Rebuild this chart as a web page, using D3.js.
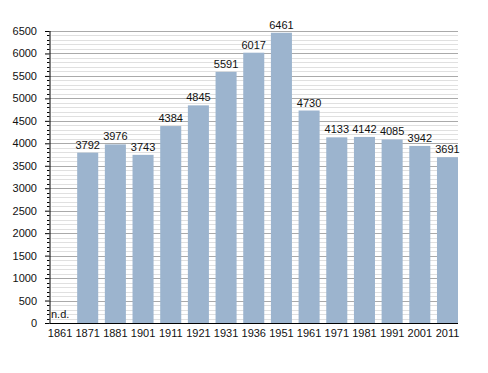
<!DOCTYPE html>
<html>
<head>
<meta charset="utf-8">
<script src="https://cdn.jsdelivr.net/npm/d3@7"></script>
<style>
  body { margin: 0; background: #fff; }
  svg text { font-family: "Liberation Sans", Arial, sans-serif; }
</style>
</head>
<body>
<div id="chart"></div>
<script>
const years = ['1861', '1871', '1881', '1901', '1911', '1921', '1931', '1936', '1951', '1961', '1971', '1981', '1991', '2001', '2011'];
const population = [null, 3792, 3976, 3743, 4384, 4845, 5591, 6017, 6461, 4730, 4133, 4142, 4085, 3942, 3691];
const yTicks = [0, 500, 1000, 1500, 2000, 2500, 3000, 3500, 4000, 4500, 5000, 5500, 6000, 6500];
const missingLabel = 'n.d.';

const width = 488, height = 373;
const margin = { top: 31, right: 30, bottom: 50, left: 49.5 };

const svg = d3.select('#chart').append('svg')
  .attr('width', width)
  .attr('height', height);

const x = d3.scaleBand()
  .domain(years)
  .range([margin.left, width - margin.right])
  .paddingInner(0.24)
  .paddingOuter(0);

const y = d3.scaleLinear()
  .domain([0, 6500])
  .range([height - margin.bottom, margin.top]);

// grid: minor every 100, major every 500
const minor = d3.range(100, 6501, 100).filter(v => v % 500 !== 0);
svg.append('g').selectAll('line')
  .data(minor)
  .join('line')
  .attr('x1', margin.left + 2)
  .attr('x2', width - margin.right)
  .attr('y1', d => Math.round(y(d)) + 0.5)
  .attr('y2', d => Math.round(y(d)) + 0.5)
  .attr('stroke', '#e0e0e0');

svg.append('g').selectAll('line')
  .data(yTicks.slice(1))
  .join('line')
  .attr('x1', margin.left)
  .attr('x2', width - margin.right)
  .attr('y1', d => Math.round(y(d)) + 0.5)
  .attr('y2', d => Math.round(y(d)) + 0.5)
  .attr('stroke', '#aaaaaa');

// bars
const data = years.map((yr, i) => ({ year: yr, value: population[i] }));

svg.selectAll('.bar')
  .data(data.filter(d => d.value != null))
  .join('rect')
  .attr('class', 'bar')
  .attr('x', d => x(d.year))
  .attr('width', x.bandwidth())
  .attr('y', d => y(d.value))
  .attr('height', d => y(0) - y(d.value))
  .attr('fill', '#9cb4ce');

svg.selectAll('.label')
  .data(data.filter(d => d.value != null))
  .join('text')
  .attr('class', 'label')
  .attr('x', d => x(d.year) + x.bandwidth() / 2)
  .attr('y', d => y(d.value) - 4)
  .attr('text-anchor', 'middle')
  .attr('font-size', 11)
  .attr('fill', '#111')
  .text(d => d.value);

svg.selectAll('.nd')
  .data(data.filter(d => d.value == null))
  .join('text')
  .attr('class', 'nd')
  .attr('x', d => x(d.year) + 1.5)
  .attr('y', y(0) - 5)
  .attr('font-size', 11)
  .attr('fill', '#111')
  .text(missingLabel);

// y axis with minor ticks
const yAxis = svg.append('g')
  .attr('transform', `translate(${margin.left},0)`);

yAxis.selectAll('.minor')
  .data(minor)
  .join('line')
  .attr('x1', -2.5)
  .attr('x2', 0)
  .attr('y1', d => Math.round(y(d)) + 0.5)
  .attr('y2', d => Math.round(y(d)) + 0.5)
  .attr('stroke', '#000');

yAxis.call(d3.axisLeft(y).tickValues(yTicks).tickFormat(d3.format('d')).tickSize(4.5).tickPadding(8))
  .call(g => g.selectAll('text').attr('font-size', 11).attr('fill', '#111'))
  .call(g => g.select('.domain').attr('d', `M0.5,${y(0)}V${y(6500)}`));

// x axis
const xAxis = svg.append('g')
  .attr('transform', `translate(0,${y(0)})`)
  .call(d3.axisBottom(x).tickSize(0).tickPadding(6));
xAxis.select('.domain').attr('d', `M${margin.left},0.5H${width - margin.right}`);
xAxis.selectAll('text').attr('font-size', 11).attr('fill', '#111');
</script>
</body>
</html>
